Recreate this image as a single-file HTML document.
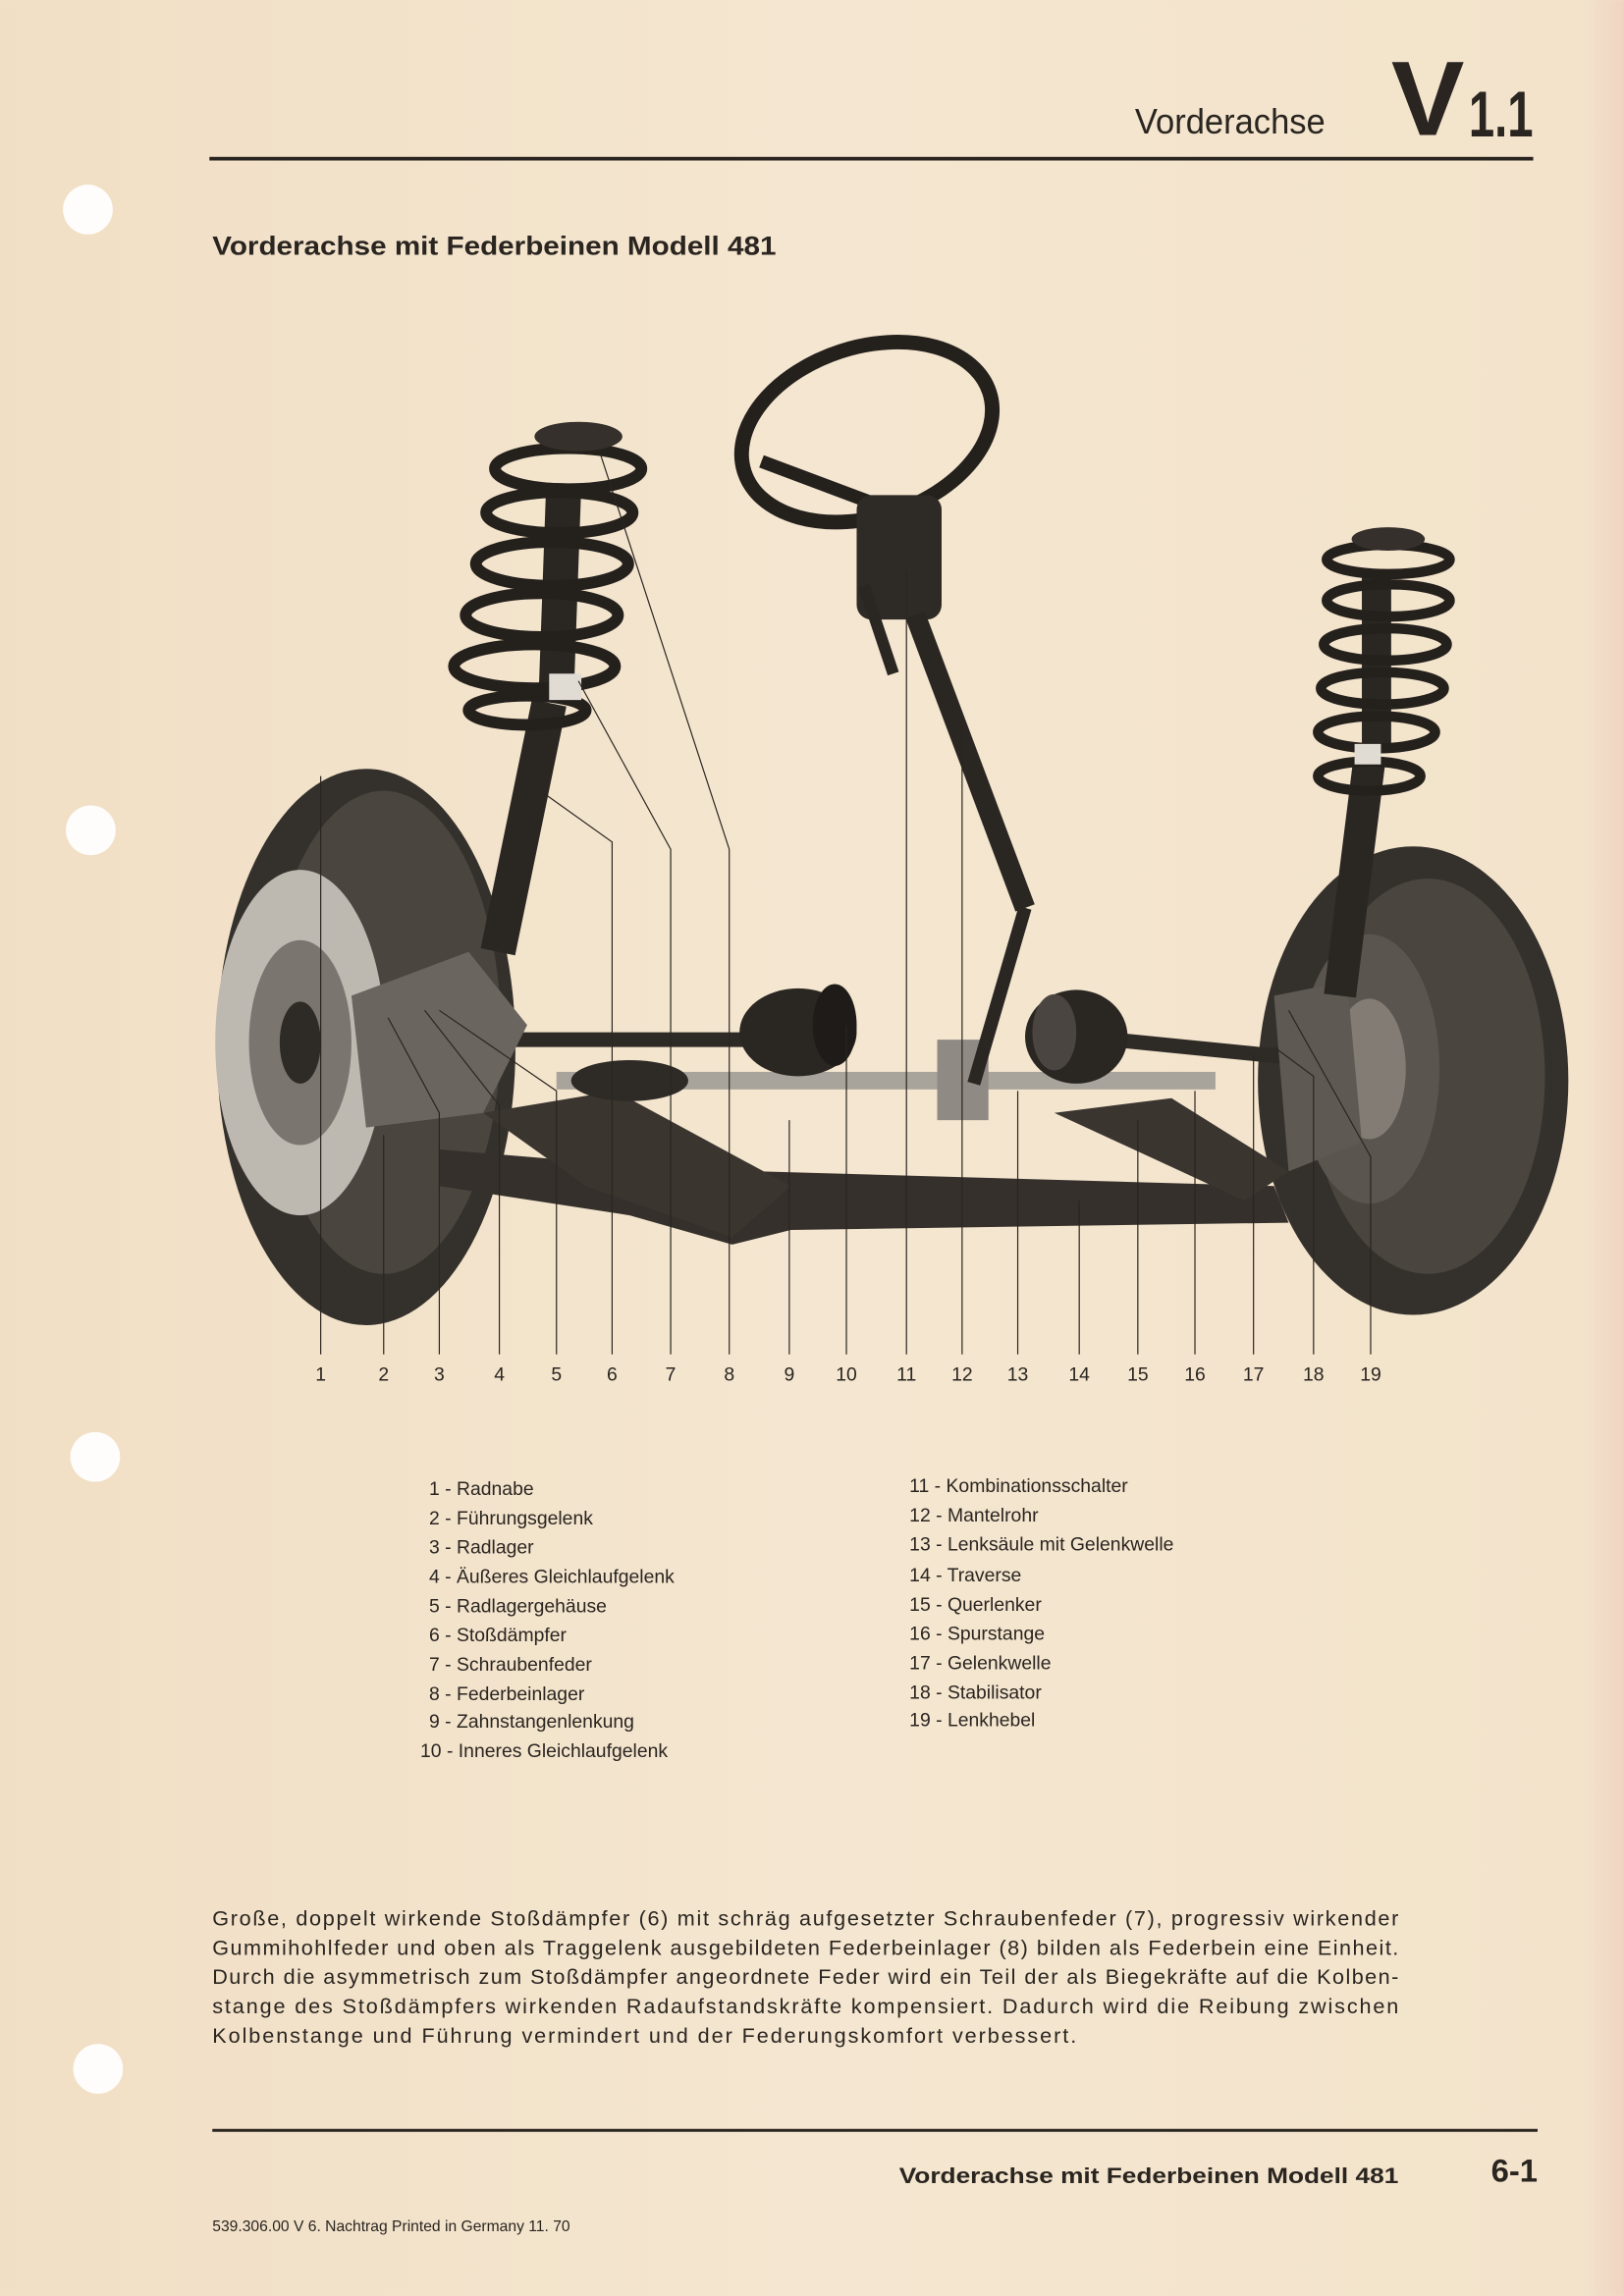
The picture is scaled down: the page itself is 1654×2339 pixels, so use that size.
<!DOCTYPE html>
<html><head><meta charset="utf-8"><style>
html,body{margin:0;padding:0;background:#f3e3ca;}
svg{display:block;width:1654px;height:2339px;}
text{font-family:"Liberation Sans",sans-serif;fill:#2a2520;}
</style></head><body>
<svg viewBox="0 0 1109 1568" xmlns="http://www.w3.org/2000/svg">
<defs>
<linearGradient id="bg" x1="0" x2="1"><stop offset="0" stop-color="#f1dfc5"/><stop offset="0.5" stop-color="#f4e6d0"/><stop offset="0.975" stop-color="#f3e3cb"/><stop offset="1" stop-color="#efd4c2"/></linearGradient>
</defs>
<rect width="1109" height="1568" fill="url(#bg)"/>
<g fill="#fefdfb"><circle cx="60" cy="143" r="17"/><circle cx="62" cy="567" r="17"/><circle cx="65" cy="995" r="17"/><circle cx="67" cy="1413" r="17"/></g>
<text x="905" y="91" font-size="24" text-anchor="end" textLength="130" lengthAdjust="spacingAndGlyphs">Vorderachse</text>
<text x="950" y="92" font-size="72" font-weight="bold" textLength="50" lengthAdjust="spacingAndGlyphs">V</text>
<text x="1003" y="93" font-size="44" font-weight="bold" textLength="44" lengthAdjust="spacingAndGlyphs">1.1</text>
<rect x="143" y="107" width="904" height="2.5" fill="#2a2520"/>
<text x="145" y="174" font-size="18" font-weight="bold" textLength="385" lengthAdjust="spacingAndGlyphs">Vorderachse mit Federbeinen Modell 481</text>

<g>
<ellipse cx="250" cy="715" rx="102" ry="190" fill="#34302b"/>
<ellipse cx="262" cy="705" rx="80" ry="165" fill="#4a453f"/>
<ellipse cx="205" cy="712" rx="58" ry="118" fill="#bdb8b0"/>
<ellipse cx="205" cy="712" rx="35" ry="70" fill="#7a756f"/>
<ellipse cx="205" cy="712" rx="14" ry="28" fill="#2e2a26"/>
<ellipse cx="965" cy="738" rx="106" ry="160" fill="#34302b"/>
<ellipse cx="975" cy="735" rx="80" ry="135" fill="#4a453f"/>
<ellipse cx="935" cy="730" rx="48" ry="92" fill="#5a554e"/>
<ellipse cx="935" cy="730" rx="25" ry="48" fill="#827c74"/>
<polygon points="300,785 480,800 520,800 870,810 880,835 540,840 500,850 430,830 300,810" fill="#35302b"/>
<polygon points="330,760 420,745 540,810 500,845 400,810" fill="#3a352f"/>
<polygon points="720,760 800,750 880,800 850,820" fill="#3a352f"/>
<rect x="380" y="732" width="450" height="12" fill="#a8a39b"/>
<rect x="640" y="710" width="35" height="55" fill="#8f8a83"/>
<line x1="290" y1="710" x2="510" y2="710" stroke="#2e2a26" stroke-width="10"/>
<line x1="760" y1="710" x2="880" y2="722" stroke="#2e2a26" stroke-width="10"/>
<ellipse cx="545" cy="705" rx="40" ry="30" fill="#2a2622"/>
<ellipse cx="570" cy="700" rx="15" ry="28" fill="#1e1b18"/>
<ellipse cx="735" cy="708" rx="35" ry="32" fill="#2a2622"/>
<ellipse cx="720" cy="705" rx="15" ry="26" fill="#4a4540"/>
<ellipse cx="430" cy="738" rx="40" ry="14" fill="#2e2a26"/>
<ellipse cx="900" cy="735" rx="25" ry="22" fill="#2e2a26"/>
<polygon points="240,680 320,650 360,700 330,760 250,770" fill="#6a655e"/>
<polygon points="870,680 920,670 930,780 880,800" fill="#5e5953"/>
<line x1="375" y1="480" x2="340" y2="650" stroke="#2a2622" stroke-width="24"/>
<line x1="385" y1="330" x2="380" y2="470" stroke="#2a2622" stroke-width="24"/>
<g fill="none" stroke="#24201c" stroke-width="8">
<ellipse cx="388" cy="320" rx="50" ry="14"/><ellipse cx="382" cy="350" rx="50" ry="14"/><ellipse cx="377" cy="385" rx="52" ry="15"/><ellipse cx="370" cy="420" rx="52" ry="15"/><ellipse cx="365" cy="455" rx="55" ry="15"/><ellipse cx="360" cy="485" rx="40" ry="10"/>
</g>
<ellipse cx="395" cy="298" rx="30" ry="10" fill="#35302b"/>
<rect x="375" y="460" width="22" height="18" fill="#e0dbd3"/>
<line x1="935" y1="520" x2="915" y2="680" stroke="#2a2622" stroke-width="22"/>
<line x1="940" y1="390" x2="940" y2="510" stroke="#2a2622" stroke-width="20"/>
<g fill="none" stroke="#24201c" stroke-width="7">
<ellipse cx="948" cy="382" rx="42" ry="10"/><ellipse cx="948" cy="410" rx="42" ry="11"/><ellipse cx="946" cy="440" rx="42" ry="11"/><ellipse cx="944" cy="470" rx="42" ry="11"/><ellipse cx="940" cy="500" rx="40" ry="11"/><ellipse cx="935" cy="530" rx="35" ry="10"/>
</g>
<ellipse cx="948" cy="368" rx="25" ry="8" fill="#35302b"/>
<rect x="925" y="508" width="18" height="14" fill="#e0dbd3"/>
<ellipse cx="592" cy="295" rx="88" ry="58" fill="none" stroke="#24201c" stroke-width="10" transform="rotate(-18 592 295)"/>
<line x1="520" y1="315" x2="600" y2="345" stroke="#24201c" stroke-width="9"/>
<rect x="585" y="338" width="58" height="85" rx="10" fill="#2e2a26"/>
<line x1="625" y1="420" x2="700" y2="620" stroke="#2a2622" stroke-width="14"/>
<line x1="700" y1="620" x2="665" y2="740" stroke="#2a2622" stroke-width="9"/>
<line x1="590" y1="400" x2="610" y2="460" stroke="#2a2622" stroke-width="8"/>
</g>

<g stroke="#2a2520" stroke-width="0.8" fill="none">
<polyline points="219,530 219,925"/>
<polyline points="262,775 262,925"/>
<polyline points="265,695 300,760 300,925"/>
<polyline points="290,690 341,755 341,925"/>
<polyline points="300,690 380,745 380,925"/>
<polyline points="362,535 418,575 418,925"/>
<polyline points="395,465 458,580 458,925"/>
<polyline points="410,310 498,580 498,925"/>
<polyline points="539,765 539,925"/>
<polyline points="578,700 578,925"/>
<polyline points="619,390 619,925"/>
<polyline points="657,490 657,925"/>
<polyline points="695,745 695,925"/>
<polyline points="737,820 737,925"/>
<polyline points="777,765 777,925"/>
<polyline points="816,745 816,925"/>
<polyline points="856,720 856,925"/>
<polyline points="870,715 897,735 897,925"/>
<polyline points="880,690 936,790 936,925"/>
</g>
<g font-size="13" text-anchor="middle">
<text x="219" y="943">1</text><text x="262" y="943">2</text><text x="300" y="943">3</text><text x="341" y="943">4</text><text x="380" y="943">5</text><text x="418" y="943">6</text><text x="458" y="943">7</text><text x="498" y="943">8</text><text x="539" y="943">9</text><text x="578" y="943">10</text><text x="619" y="943">11</text><text x="657" y="943">12</text><text x="695" y="943">13</text><text x="737" y="943">14</text><text x="777" y="943">15</text><text x="816" y="943">16</text><text x="856" y="943">17</text><text x="897" y="943">18</text><text x="936" y="943">19</text>
</g>

<g font-size="13">
<text x="293" y="1021">1 - Radnabe</text>
<text x="293" y="1041">2 - Führungsgelenk</text>
<text x="293" y="1061">3 - Radlager</text>
<text x="293" y="1081">4 - Äußeres Gleichlaufgelenk</text>
<text x="293" y="1101">5 - Radlagergehäuse</text>
<text x="293" y="1121">6 - Stoßdämpfer</text>
<text x="293" y="1141">7 - Schraubenfeder</text>
<text x="293" y="1161">8 - Federbeinlager</text>
<text x="293" y="1180">9 - Zahnstangenlenkung</text>
<text x="287" y="1200">10 - Inneres Gleichlaufgelenk</text>
<text x="621" y="1019">11 - Kombinationsschalter</text>
<text x="621" y="1039">12 - Mantelrohr</text>
<text x="621" y="1059">13 - Lenksäule mit Gelenkwelle</text>
<text x="621" y="1080">14 - Traverse</text>
<text x="621" y="1100">15 - Querlenker</text>
<text x="621" y="1120">16 - Spurstange</text>
<text x="621" y="1140">17 - Gelenkwelle</text>
<text x="621" y="1160">18 - Stabilisator</text>
<text x="621" y="1179">19 - Lenkhebel</text>
</g>

<g font-size="14.5">
<text x="145" y="1315" textLength="810" lengthAdjust="spacing">Große, doppelt wirkende Stoßdämpfer (6) mit schräg aufgesetzter Schraubenfeder (7), progressiv wirkender</text>
<text x="145" y="1335" textLength="810" lengthAdjust="spacing">Gummihohlfeder und oben als Traggelenk ausgebildeten Federbeinlager (8) bilden als Federbein eine Einheit.</text>
<text x="145" y="1355" textLength="810" lengthAdjust="spacing">Durch die asymmetrisch zum Stoßdämpfer angeordnete Feder wird ein Teil der als Biegekräfte auf die Kolben-</text>
<text x="145" y="1375" textLength="810" lengthAdjust="spacing">stange des Stoßdämpfers wirkenden Radaufstandskräfte kompensiert. Dadurch wird die Reibung zwischen</text>
<text x="145" y="1395" textLength="590" lengthAdjust="spacing">Kolbenstange und Führung vermindert und der Federungskomfort verbessert.</text>
</g>

<rect x="145" y="1454" width="905" height="2" fill="#2a2520"/>
<text x="955" y="1491" font-size="15" font-weight="bold" text-anchor="end" textLength="341" lengthAdjust="spacingAndGlyphs">Vorderachse mit Federbeinen Modell 481</text>
<text x="1050" y="1490" font-size="22" font-weight="bold" text-anchor="end">6-1</text>
<text x="145" y="1524" font-size="10.5">539.306.00  V  6. Nachtrag  Printed in Germany  11. 70</text>
</svg>
</body></html>
